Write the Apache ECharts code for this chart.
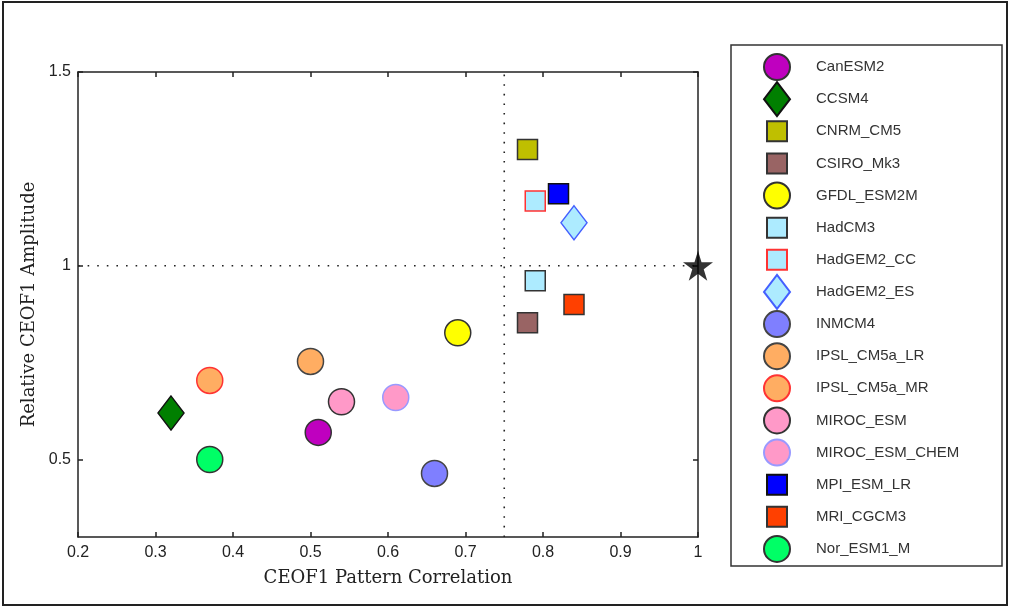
<!DOCTYPE html>
<html>
<head>
<meta charset="utf-8">
<script src="https://cdn.jsdelivr.net/npm/echarts@6/dist/echarts.min.js"></script>
<style>html,body{margin:0;padding:0;background:#fff;}#chart{width:1010px;height:608px;}</style>
</head>
<body>
<div id="chart"></div>
<script>
const models = ['CanESM2','CCSM4','CNRM_CM5','CSIRO_Mk3','GFDL_ESM2M','HadCM3','HadGEM2_CC','HadGEM2_ES','INMCM4','IPSL_CM5a_LR','IPSL_CM5a_MR','MIROC_ESM','MIROC_ESM_CHEM','MPI_ESM_LR','MRI_CGCM3','Nor_ESM1_M'];
const correlation = [0.51, 0.32, 0.78, 0.78, 0.69, 0.79, 0.79, 0.84, 0.66, 0.50, 0.37, 0.54, 0.61, 0.82, 0.84, 0.37];
const amplitude   = [0.57, 0.62, 1.30, 0.853, 0.827, 0.961, 1.167, 1.111, 0.464, 0.753, 0.704, 0.649, 0.660, 1.186, 0.900, 0.50];
const referencePoint = [1, 1];
const correlationThreshold = 0.75;
const amplitudeThreshold = 1;
const xTicks = [0.2, 0.3, 0.4, 0.5, 0.6, 0.7, 0.8, 0.9, 1];
const yTicks = [0.5, 1, 1.5];

const styles = {
  CanESM2:       {shape:'circle',  fill:'#BF00BF', border:'#333'},
  CCSM4:         {shape:'diamond', fill:'#007F00', border:'#111'},
  CNRM_CM5:      {shape:'rect',    fill:'#BFBF00', border:'#333'},
  CSIRO_Mk3:     {shape:'rect',    fill:'#996464', border:'#333'},
  GFDL_ESM2M:    {shape:'circle',  fill:'#FFFF00', border:'#333'},
  HadCM3:        {shape:'rect',    fill:'#ADEBFF', border:'#333'},
  HadGEM2_CC:    {shape:'rect',    fill:'#ADEBFF', border:'#FF3333'},
  HadGEM2_ES:    {shape:'diamond', fill:'#ADEBFF', border:'#4460FF'},
  INMCM4:        {shape:'circle',  fill:'#7F7FFF', border:'#444'},
  IPSL_CM5a_LR:  {shape:'circle',  fill:'#FFAD62', border:'#444'},
  IPSL_CM5a_MR:  {shape:'circle',  fill:'#FFAD62', border:'#FF3333'},
  MIROC_ESM:     {shape:'circle',  fill:'#FF99C8', border:'#333'},
  MIROC_ESM_CHEM:{shape:'circle',  fill:'#FF99C8', border:'#9999FF'},
  MPI_ESM_LR:    {shape:'rect',    fill:'#0000FF', border:'#111'},
  MRI_CGCM3:     {shape:'rect',    fill:'#FF4000', border:'#333'},
  Nor_ESM1_M:    {shape:'circle',  fill:'#00FF66', border:'#333'}
};
const sizes = {circle:[26,26], rect:[20,20], diamond:[26,34]};
const starPath = 'path://M50,0 L61.2,34.5 L97.6,34.5 L68.2,55.9 L79.4,90.5 L50,69.1 L20.6,90.5 L31.8,55.9 L2.4,34.5 L38.8,34.5 Z';

const series = models.map((name, i) => {
  const s = styles[name];
  return {
    name: name,
    type: 'scatter',
    clip: false,
    symbol: s.shape,
    symbolSize: sizes[s.shape],
    itemStyle: {color: s.fill, borderColor: s.border, borderWidth: 1.5, opacity: 1},
    emphasis: {disabled: true},
    data: [[correlation[i], amplitude[i]]],
    z: 5
  };
});
series.push({
  name: 'vline', type: 'line', silent: true, symbol: 'none',
  lineStyle: {color: '#222', width: 1.6, type: [1.6, 8]},
  data: [[correlationThreshold, 0.3], [correlationThreshold, 1.5]], z: 2
});
series.push({
  name: 'hline', type: 'line', silent: true, symbol: 'none',
  lineStyle: {color: '#222', width: 1.6, type: [1.6, 8]},
  data: [[0.2, amplitudeThreshold], [1, amplitudeThreshold]], z: 2
});
series.push({
  name: 'reference', type: 'scatter', clip: false, symbol: starPath, symbolSize: 30,
  itemStyle: {color: '#000'}, silent: true,
  data: [referencePoint], z: 6
});

const legendX = 776, textX = 815, rowY0 = 66, rowGap = 32.13;
const legends = models.map((name, i) => {
  const sz = sizes[styles[name].shape];
  const w = sz[0], h = sz[1];
  return {
    data: [name],
    selectedMode: false,
    orient: 'vertical',
    left: legendX - w / 2,
    top: rowY0 + i * rowGap - h / 2,
    itemWidth: w, itemHeight: h,
    padding: 0,
    textStyle: {fontFamily: 'Liberation Sans, Arial, sans-serif', fontSize: 15, color: '#333',
      padding: [0, 0, 0, textX - (legendX + w / 2) - 5]}
  };
});

const axisLineStyle = {color: '#222', width: 1.5};
const titleFont = {fontFamily: 'DejaVu Serif, serif', fontSize: 18, color: '#222'};
const tickFont = {fontFamily: 'Liberation Sans, Arial, sans-serif', fontSize: 16, color: '#222'};
const chart = echarts.init(document.getElementById('chart'));
chart.setOption({
  animation: false,
  backgroundColor: '#fff',
  grid: {left: 78, right: 312, top: 72, bottom: 71, containLabel: false},
  legend: legends,
  xAxis: [{
    type: 'value', min: 0.2, max: 1, interval: 0.1, position: 'bottom',
    name: 'CEOF1 Pattern Correlation', nameLocation: 'middle', nameGap: 32,
    nameTextStyle: titleFont,
    axisLine: {show: true, lineStyle: axisLineStyle},
    axisTick: {show: true, inside: true, length: 5, lineStyle: axisLineStyle},
    axisLabel: Object.assign({margin: 8, formatter: v => String(Math.round(v * 10) / 10)}, tickFont),
    splitLine: {show: false}
  }, {
    type: 'value', min: 0.2, max: 1, interval: 0.1, position: 'top',
    axisLine: {show: true, onZero: false, lineStyle: axisLineStyle},
    axisTick: {show: true, inside: true, length: 5, lineStyle: axisLineStyle},
    axisLabel: {show: false}, splitLine: {show: false}
  }],
  yAxis: [{
    type: 'value', min: 0.3, max: 1.5, position: 'left',
    name: 'Relative CEOF1 Amplitude', nameLocation: 'middle', nameGap: 40,
    nameTextStyle: titleFont,
    axisLine: {show: true, lineStyle: axisLineStyle},
    axisTick: {show: true, inside: true, length: 5, lineStyle: axisLineStyle, customValues: yTicks},
    axisLabel: Object.assign({margin: 7, customValues: yTicks, formatter: v => String(v)}, tickFont),
    splitLine: {show: false}
  }, {
    type: 'value', min: 0.3, max: 1.5, position: 'right',
    axisLine: {show: true, onZero: false, lineStyle: axisLineStyle},
    axisTick: {show: true, inside: true, length: 5, lineStyle: axisLineStyle, customValues: yTicks},
    axisLabel: {show: false, customValues: yTicks}, splitLine: {show: false}
  }],
  graphic: [
    {type: 'rect', shape: {x: 3, y: 2, width: 1004, height: 603}, style: {fill: 'none', stroke: '#222', lineWidth: 2}, silent: true, z: -1},
    {type: 'rect', shape: {x: 731, y: 45, width: 271, height: 521}, style: {fill: '#fff', stroke: '#333', lineWidth: 1.5}, silent: true, z: -1}
  ],
  series: series
});
</script>
</body>
</html>
